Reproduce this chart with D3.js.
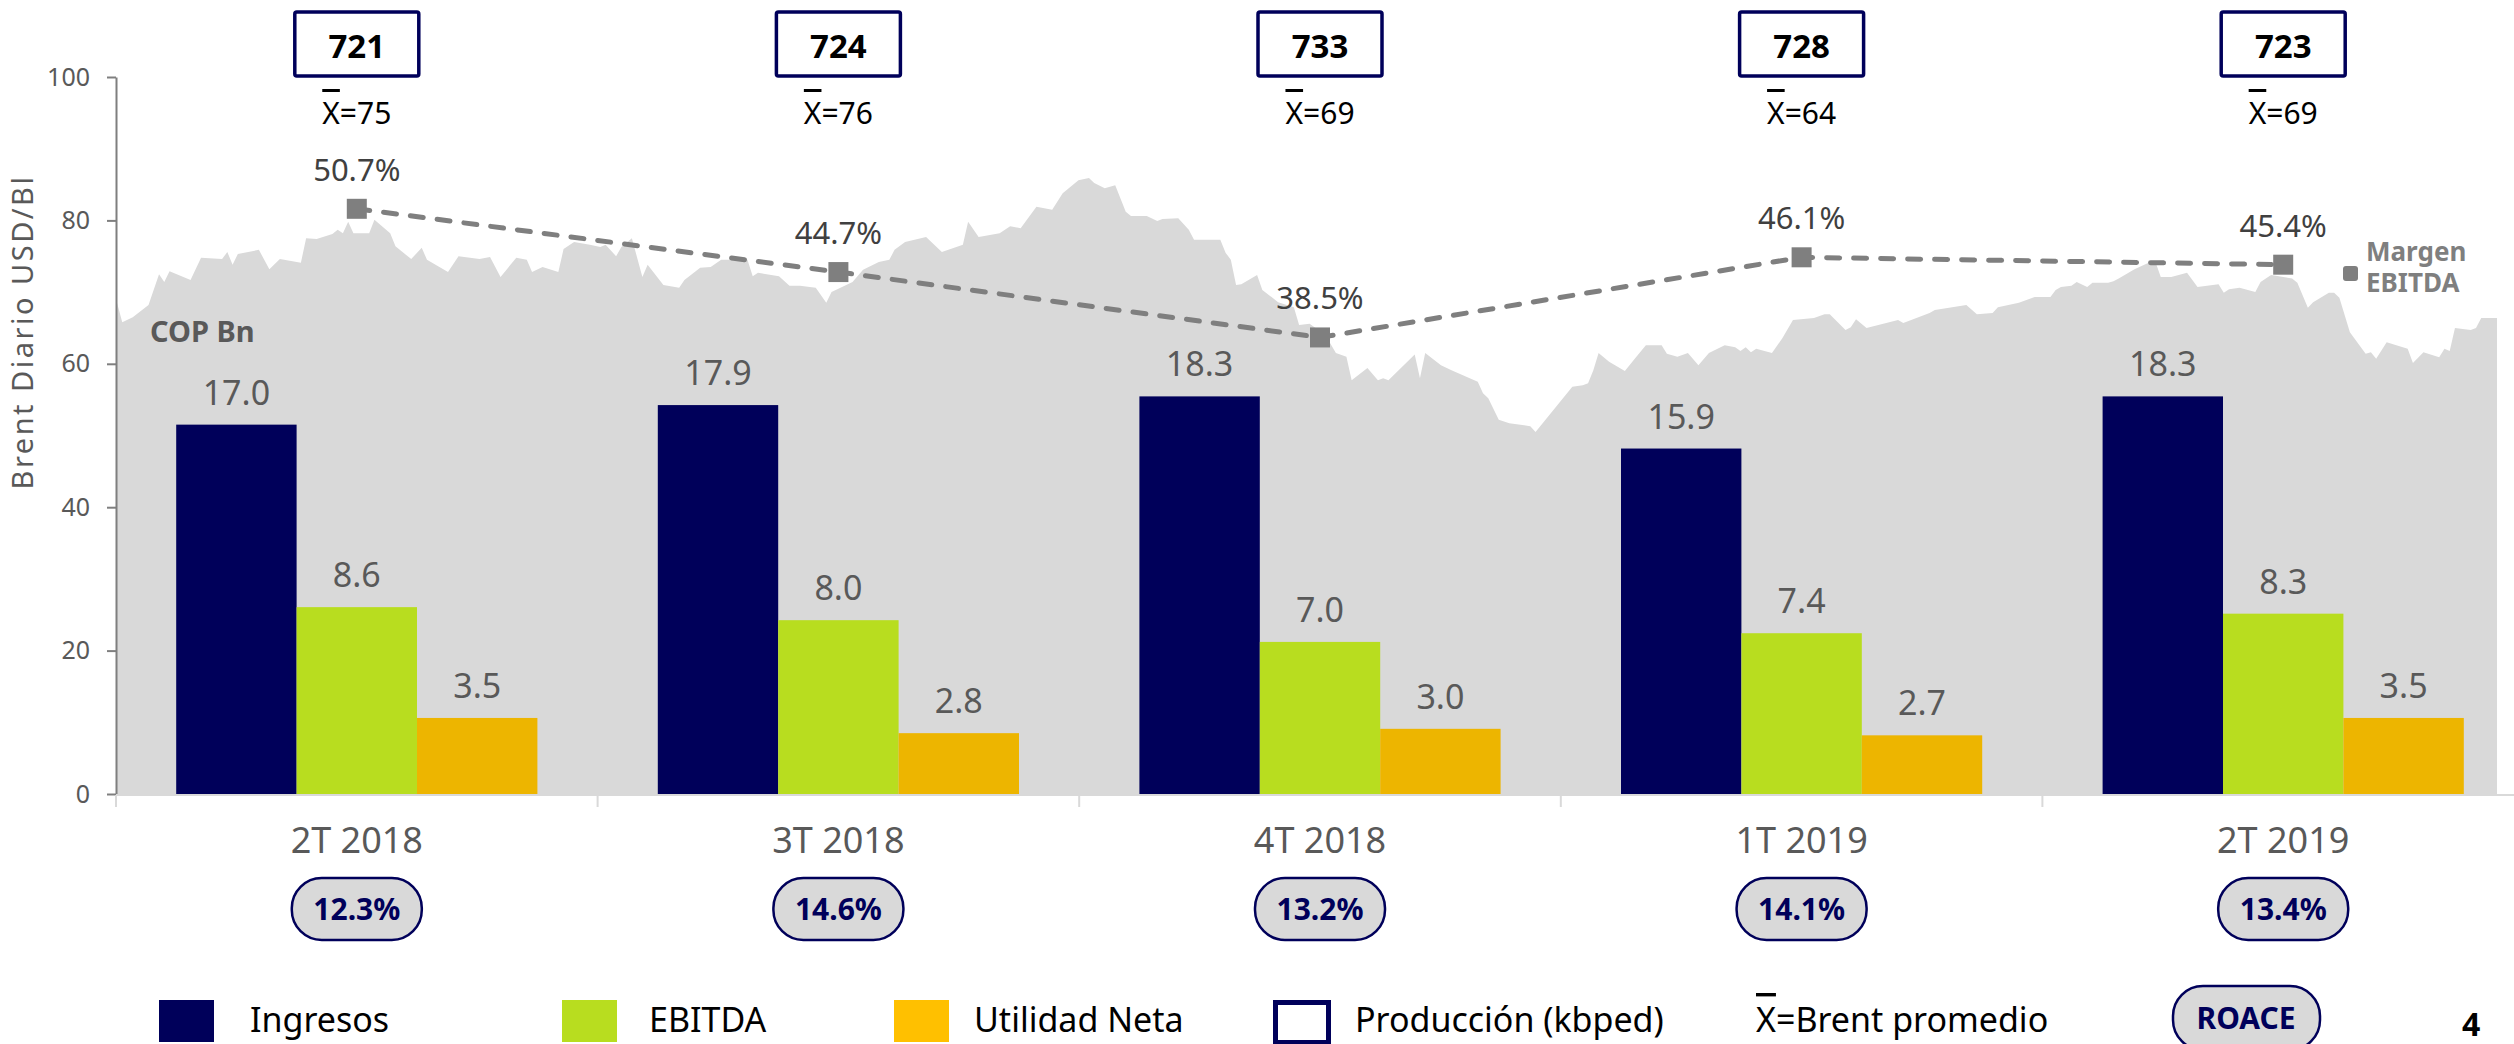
<!DOCTYPE html>
<html>
<head>
<meta charset="utf-8">
<script src="https://cdn.jsdelivr.net/npm/d3@7"></script>
<style>
  body { margin: 0; background: #fff; }
  svg { display: block; font-family: "Noto Sans", sans-serif; }
</style>
</head>
<body>
<div id="chart"></div>
<script>
// ---- data ----
const quarters = ["2T 2018", "3T 2018", "4T 2018", "1T 2019", "2T 2019"];
const seriesNames = ["Ingresos", "EBITDA", "Utilidad Neta"];
const ingresos = [17.0, 17.9, 18.3, 15.9, 18.3];
const ebitda = [8.6, 8.0, 7.0, 7.4, 8.3];
const utilidad = [3.5, 2.8, 3.0, 2.7, 3.5];
const margenEbitda = [50.7, 44.7, 38.5, 46.1, 45.4];
const produccion = [721, 724, 733, 728, 723];
const brentPromedio = [75, 76, 69, 64, 69];
const roace = [12.3, 14.6, 13.2, 14.1, 13.4];
const yTicks = [0, 20, 40, 60, 80, 100];

// Brent daily (days since 2018-04-01, USD/Bl)
const brentStart = new Date(2018, 3, 1);
const brentDays = [
  0, 1, 3, 6, 8, 9, 10, 14, 16, 20, 21, 22, 23, 27, 29, 31, 35, 36, 38, 41, 42, 43, 44, 45, 48, 49, 52, 53, 56, 58,
  59, 63, 65, 69, 71, 73, 76, 78, 79, 81, 84, 85, 87, 90,
  92, 93, 95, 96, 98, 100, 101, 104, 107, 108, 111, 113, 115, 120, 121, 122, 126, 128, 130, 133, 135, 136, 140, 142,
  145, 147, 148, 150, 154, 155, 157, 161, 162, 164, 168, 170, 172, 175, 178, 180, 183,
  185, 186, 188, 190, 192, 193, 196, 198, 199, 202, 204, 205, 210, 211, 212, 213, 214, 217, 218, 221, 224, 225, 227,
  230, 232, 234, 235, 238, 240, 241, 242, 247, 248, 249, 252, 254, 259, 260, 261, 263, 265, 269, 270, 277, 279,
  280, 281, 282, 284, 287, 289, 291, 294, 295, 297, 299, 301, 303, 306, 308, 309, 310, 311, 312, 315, 317, 319, 323,
  325, 326, 329, 330, 331, 333, 339, 340, 345, 346, 352, 354, 357, 358, 362, 365, 368, 369,
  370, 372, 373, 375, 376, 379, 380, 381, 384, 387, 388, 389, 391, 394, 396, 400, 401, 402, 404, 407, 408, 410, 414,
  415, 417, 418, 421, 422, 423, 425, 428, 429, 430, 432, 436, 437, 439, 442, 443, 444, 445, 448, 449, 450, 453
];
const brentPrices = [
  68.5, 65.8, 66.5, 68.2, 72.5, 71.4, 72.9, 71.7, 74.8, 74.6, 75.6, 73.8, 75.3, 75.9, 73.2, 74.6, 74.1, 77.5, 77.4, 78.1,
  78.7, 78.2, 79.8, 78.2, 78.2, 80.1, 78.2, 76.4, 74.6, 76.2, 74.5, 72.8, 75.0, 74.6, 74.9, 72.1, 74.8, 74.5, 72.8, 73.5,
  72.8, 76.0, 77.0, 76.6,
  76.3, 76.6, 75.0, 76.3, 77.5, 72.1, 73.8, 71.0, 70.6, 71.7, 73.4, 73.5, 74.5, 74.5, 72.2, 72.7, 72.2, 70.9, 70.9, 70.6,
  68.5, 70.0, 71.4, 73.1, 74.2, 74.5, 75.9, 77.0, 77.7, 77.0, 75.6, 76.6, 79.8, 77.7, 78.2, 79.2, 78.9, 81.9, 81.5, 83.8,
  85.6,
  85.9, 85.2, 84.5, 84.9, 81.2, 80.6, 80.6, 79.9, 80.2, 80.3, 78.7, 77.3, 77.3, 75.5, 74.5, 71.0, 71.1, 72.4, 70.3, 68.6,
  67.9, 65.4, 65.6, 64.0, 61.5, 61.0, 57.7, 59.4, 57.7, 58.0, 57.7, 61.3, 58.0, 61.5, 59.8, 59.1, 57.5, 55.9, 55.2, 52.2,
  51.7, 51.3, 50.5, 56.8, 57.0,
  57.3, 59.1, 61.5, 60.3, 59.0, 60.8, 62.6, 62.6, 61.4, 61.0, 61.5, 59.8, 61.5, 62.6, 62.3, 61.8, 62.3, 61.6, 62.1, 61.5,
  63.6, 66.1, 66.4, 66.9, 66.9, 64.7, 65.1, 66.2, 65.0, 66.1, 65.7, 67.1, 67.5, 68.2, 66.9, 67.1, 67.9, 68.5, 69.3, 69.3,
  70.3,
  70.7, 70.9, 71.4, 70.7, 71.3, 71.3, 71.5, 71.9, 73.2, 74.2, 74.2, 72.1, 72.1, 72.7, 70.7, 71.1, 69.9, 70.4, 70.6, 70.0,
  71.4, 72.4, 71.9, 71.3, 67.8, 68.6, 69.9, 69.9, 69.2, 64.4, 61.4, 61.6, 60.7, 63.0, 62.1, 60.1, 61.6, 60.9, 62.1, 61.8,
  65.0, 64.7, 65.0, 66.4, 66.4
];

// ---- style ----
const color = {
  navy: '#00005a',
  green: '#b8dd1f',
  orange: '#edb500',
  orangeLegend: '#ffc000',
  area: '#d9d9d9',
  line: '#7f7f7f',
  text: '#595959',
  dark: '#404040'
};

const W = 2514, H = 1044;
const plot = { left: 116, right: 2524, top: 77, bottom: 794 };

const svg = d3.select('#chart').append('svg')
  .attr('width', W).attr('height', H)
  .attr('viewBox', `0 0 ${W} ${H}`);

// ---- scales ----
const x = d3.scaleBand().domain(quarters)
  .range([plot.left, plot.right])
  .paddingInner(0.25).paddingOuter(0.125);
const xs = d3.scaleBand().domain(seriesNames).range([0, x.bandwidth()]);
const cx = q => x(q) + x.bandwidth() / 2;

const yBrent = d3.scaleLinear().domain([0, 100]).range([plot.bottom, plot.top]);
const yBar = d3.scaleLinear().domain([0, 33]).range([plot.bottom, plot.top]);
const yMargin = d3.scaleLinear().domain([-4.8, 63.2]).range([plot.bottom, plot.top]);
const xTime = d3.scaleTime()
  .domain([brentStart, d3.timeDay.offset(brentStart, 453)])
  .range([117, 2497]);

// ---- brent area ----
const brent = brentDays.map((d, i) => ({ date: d3.timeDay.offset(brentStart, d), price: brentPrices[i] }));
svg.append('path')
  .datum(brent)
  .attr('fill', color.area)
  .attr('d', d3.area()
    .x(d => xTime(d.date))
    .y0(yBrent(0))
    .y1(d => yBrent(d.price)));

// ---- y axis ----
const yAxisG = svg.append('g')
  .attr('transform', `translate(${plot.left},0)`)
  .call(d3.axisLeft(yBrent).tickValues(yTicks).tickSize(9).tickSizeOuter(0).tickPadding(17));
yAxisG.select('.domain').attr('stroke', color.line).attr('stroke-width', 2);
yAxisG.selectAll('.tick line').attr('stroke', color.line).attr('stroke-width', 2);
yAxisG.selectAll('.tick text')
  .attr('fill', color.text).attr('font-size', 25)
  .attr('font-family', '"Noto Sans", sans-serif');

svg.append('text')
  .attr('transform', 'translate(33,332) rotate(-90)')
  .attr('text-anchor', 'middle')
  .attr('fill', color.text)
  .attr('font-size', 29)
  .attr('letter-spacing', 2.5)
  .text('Brent Diario USD/Bl');

// ---- x axis ----
const xAxisG = svg.append('g');
xAxisG.append('line')
  .attr('x1', plot.left).attr('x2', plot.right)
  .attr('y1', plot.bottom + 1).attr('y2', plot.bottom + 1)
  .attr('stroke', color.area).attr('stroke-width', 2);
const edges = quarters.map(q => x(q) - x.step() * x.paddingOuter());
edges.push(plot.right);
xAxisG.selectAll('.sep').data(edges).join('line')
  .attr('x1', d => d).attr('x2', d => d)
  .attr('y1', plot.bottom + 1).attr('y2', plot.bottom + 13)
  .attr('stroke', color.area).attr('stroke-width', 2);
xAxisG.selectAll('.cat').data(quarters).join('text')
  .attr('x', d => cx(d)).attr('y', 853)
  .attr('text-anchor', 'middle')
  .attr('fill', color.text).attr('font-size', 36)
  .text(d => d);

// ---- ROACE pills ----
const pills = svg.selectAll('.roace').data(quarters).join('g')
  .attr('transform', d => `translate(${cx(d)},0)`);
pills.append('rect')
  .attr('x', -65).attr('y', 878).attr('width', 130).attr('height', 62).attr('rx', 30)
  .attr('fill', color.area).attr('stroke', color.navy).attr('stroke-width', 2.5);
pills.append('text')
  .attr('y', 920).attr('text-anchor', 'middle')
  .attr('fill', color.navy).attr('font-size', 30).attr('font-weight', 'bold')
  .text((d, i) => d3.format('.1f')(roace[i]) + '%');

// ---- bars ----
const barColors = [color.navy, color.green, color.orange];
const groups = svg.selectAll('.grp').data(quarters).join('g')
  .attr('transform', d => `translate(${x(d)},0)`);
const barData = (q, i) => [ingresos[i], ebitda[i], utilidad[i]]
  .map((v, k) => ({ key: seriesNames[k], value: v, color: barColors[k] }));
groups.selectAll('rect').data(barData).join('rect')
  .attr('x', d => xs(d.key))
  .attr('y', d => yBar(d.value))
  .attr('width', xs.bandwidth())
  .attr('height', d => yBar(0) - yBar(d.value))
  .attr('fill', d => d.color);
groups.selectAll('text').data(barData).join('text')
  .attr('x', d => xs(d.key) + xs.bandwidth() / 2)
  .attr('y', d => yBar(d.value) - 20)
  .attr('text-anchor', 'middle')
  .attr('fill', color.text).attr('font-size', 34)
  .text(d => d3.format('.1f')(d.value));

svg.append('text')
  .attr('x', 150).attr('y', 342)
  .attr('fill', color.text).attr('font-size', 29).attr('font-weight', 'bold')
  .text('COP Bn');

// ---- margen EBITDA ----
svg.append('path')
  .datum(margenEbitda)
  .attr('fill', 'none')
  .attr('stroke', color.line).attr('stroke-width', 5)
  .attr('stroke-dasharray', '13 14').attr('stroke-linecap', 'round')
  .attr('d', d3.line().x((d, i) => cx(quarters[i])).y(d => yMargin(d)));
svg.selectAll('.mk').data(margenEbitda).join('rect')
  .attr('x', (d, i) => cx(quarters[i]) - 10)
  .attr('y', d => yMargin(d) - 10)
  .attr('width', 20).attr('height', 20)
  .attr('fill', color.line);
svg.selectAll('.mlab').data(margenEbitda).join('text')
  .attr('x', (d, i) => cx(quarters[i]))
  .attr('y', d => yMargin(d) - 28)
  .attr('text-anchor', 'middle')
  .attr('fill', color.dark).attr('font-size', 31)
  .text(d => d3.format('.1f')(d) + '%');

// legend for the line
svg.append('rect')
  .attr('x', 2343).attr('y', 266).attr('width', 15).attr('height', 15).attr('rx', 3)
  .attr('fill', color.line);
const mLeg = svg.append('text')
  .attr('fill', color.line).attr('font-size', 26).attr('font-weight', 'bold');
mLeg.append('tspan').attr('x', 2366).attr('y', 261).text('Margen');
mLeg.append('tspan').attr('x', 2366).attr('y', 292).text('EBITDA');

// ---- producción boxes and brent average ----
const topG = svg.selectAll('.top').data(quarters).join('g')
  .attr('transform', d => `translate(${cx(d)},0)`);
topG.append('rect')
  .attr('x', -62).attr('y', 12).attr('width', 124).attr('height', 64).attr('rx', 2)
  .attr('fill', '#fff').attr('stroke', color.navy).attr('stroke-width', 3.5);
topG.append('text')
  .attr('y', 58).attr('text-anchor', 'middle')
  .attr('fill', '#000').attr('font-size', 33).attr('font-weight', 'bold')
  .text((d, i) => produccion[i]);
const avg = topG.append('text')
  .attr('y', 124).attr('text-anchor', 'middle')
  .attr('fill', '#000').attr('font-size', 30);
avg.append('tspan').attr('text-decoration', 'overline').text('X');
avg.append('tspan').text((d, i) => '=' + brentPromedio[i]);

// ---- bottom legend ----
const legY = 1000;
const leg = svg.append('g');
const legItems = [
  { label: 'Ingresos', fill: color.navy, x: 159, tx: 250 },
  { label: 'EBITDA', fill: color.green, x: 562, tx: 649 },
  { label: 'Utilidad Neta', fill: color.orangeLegend, x: 894, tx: 974 }
];
legItems.forEach(d => {
  leg.append('rect').attr('x', d.x).attr('y', legY).attr('width', 55).attr('height', 42).attr('fill', d.fill);
  leg.append('text').attr('x', d.tx).attr('y', 1032).attr('font-size', 34).attr('fill', '#000').text(d.label);
});
leg.append('rect').attr('x', 1275.5).attr('y', legY + 2.5).attr('width', 53).attr('height', 40)
  .attr('fill', '#fff').attr('stroke', color.navy).attr('stroke-width', 5);
leg.append('text').attr('x', 1355).attr('y', 1032).attr('font-size', 34).attr('fill', '#000')
  .text('Producción (kbped)');
const legAvg = leg.append('text').attr('x', 1756).attr('y', 1032).attr('font-size', 34).attr('fill', '#000');
legAvg.append('tspan').attr('text-decoration', 'overline').text('X');
legAvg.append('tspan').text('=Brent promedio');
leg.append('rect').attr('x', 2173).attr('y', 986).attr('width', 147).attr('height', 64).attr('rx', 30)
  .attr('fill', color.area).attr('stroke', color.navy).attr('stroke-width', 2.5);
leg.append('text').attr('x', 2246).attr('y', 1029).attr('text-anchor', 'middle')
  .attr('font-size', 30).attr('font-weight', 'bold').attr('fill', color.navy).text('ROACE');

svg.append('text').attr('x', 2462).attr('y', 1036)
  .attr('font-size', 32).attr('font-weight', 'bold').attr('fill', '#000').text('4');
</script>
</body>
</html>
